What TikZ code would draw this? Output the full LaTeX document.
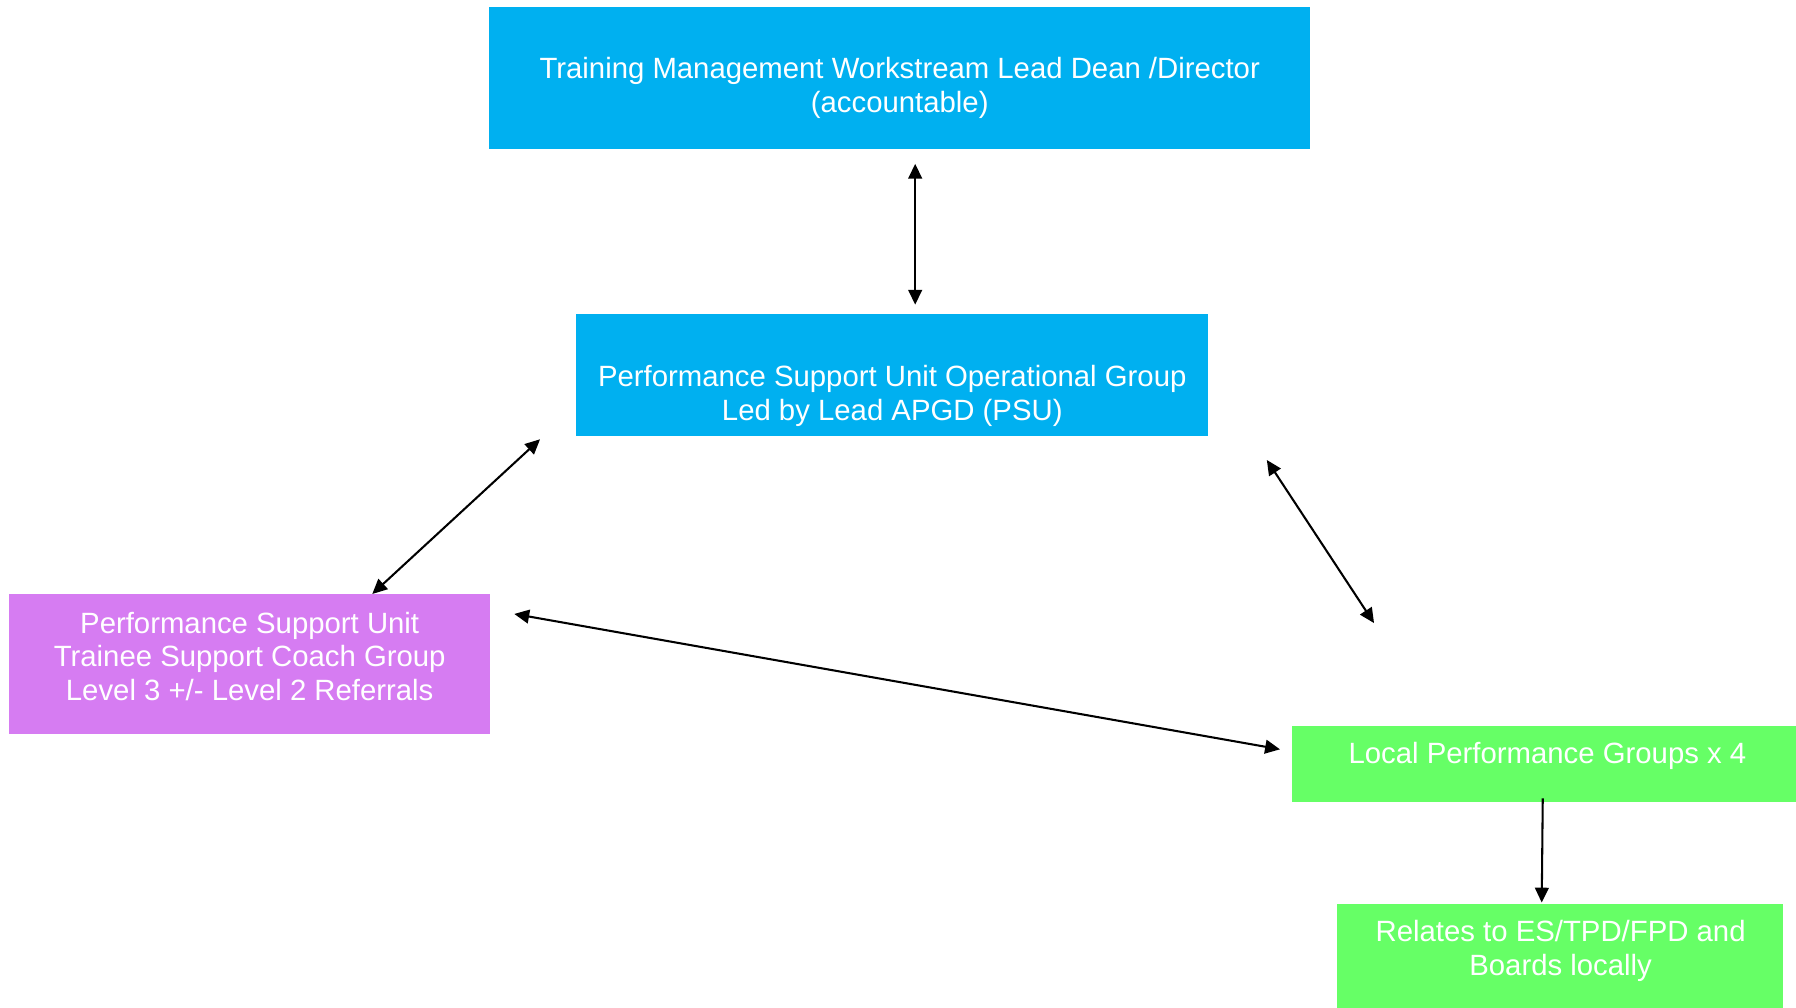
\documentclass[tikz,border=0pt]{standalone}
\usepackage{fontspec}
\setmainfont{Liberation Sans}
\usetikzlibrary{arrows.meta}
\definecolor{psublue}{RGB}{0,176,240}
\definecolor{psupurple}{RGB}{214,124,242}
\definecolor{psugreen}{RGB}{102,255,102}
\begin{document}
\begin{tikzpicture}[x=1pt,y=-1pt,
  box/.style={draw=none, inner sep=0pt, outer sep=0pt, anchor=north west},
  lbl/.style={text=white, align=center, inner sep=0pt, font=\fontsize{25.6}{29.5}\selectfont},
  conn/.style={line width=1.8pt, {Triangle[length=13pt,width=12pt]}-{Triangle[length=13pt,width=12pt]}},
  oneway/.style={line width=1.8pt, -{Triangle[length=13pt,width=12pt]}}]
\useasboundingbox (0,0) rectangle (1568,880);
% boxes
\node[box, fill=psublue, minimum width=717pt, minimum height=124pt] (top) at (427,6) {};
\node[box, fill=psublue, minimum width=552pt, minimum height=107pt] (psu) at (503,274) {};
\node[box, fill=psupurple, minimum width=420pt, minimum height=122pt] (coach) at (8,519) {};
\node[box, fill=psugreen, minimum width=440pt, minimum height=66pt] (local) at (1128,634) {};
\node[box, fill=psugreen, minimum width=390pt, minimum height=91pt] (relates) at (1167,789) {};
% texts
\node[lbl] (toptext) at (785.5,77) {Training Management Workstream Lead Dean /Director\\(accountable)};
\node[lbl] (psutext) at (779,345.6) {Performance Support Unit Operational Group\\Led by Lead APGD (PSU)};
\node[lbl] (coachtext) at (218,573) {Performance Support Unit\\Trainee Support Coach Group\\Level 3 +/- Level 2 Referrals};
\node[lbl, anchor=base] (localtext) at (1351,666.4) {Local Performance Groups x 4};
\node[lbl] (relatestext) at (1362.5,830) {Relates to ES/TPD/FPD and\\Boards locally};
% connector ends
\coordinate (a1) at (799,143);
\coordinate (a2) at (799,266);
\coordinate (b1) at (471.5,383.5);
\coordinate (b2) at (325,518.6);
\coordinate (c1) at (1106,401.6);
\coordinate (c2) at (1199.6,544);
\coordinate (d1) at (449,536);
\coordinate (d2) at (1117.5,654.2);
\coordinate (e1) at (1346.9,697);
\coordinate (e2) at (1346,788);
% connectors
\draw[conn] (a1) -- (a2);
\draw[conn] (b1) -- (b2);
\draw[conn] (c1) -- (c2);
\draw[conn] (d1) -- (d2);
\draw[oneway] (e1) -- (e2);
\end{tikzpicture}
\end{document}
